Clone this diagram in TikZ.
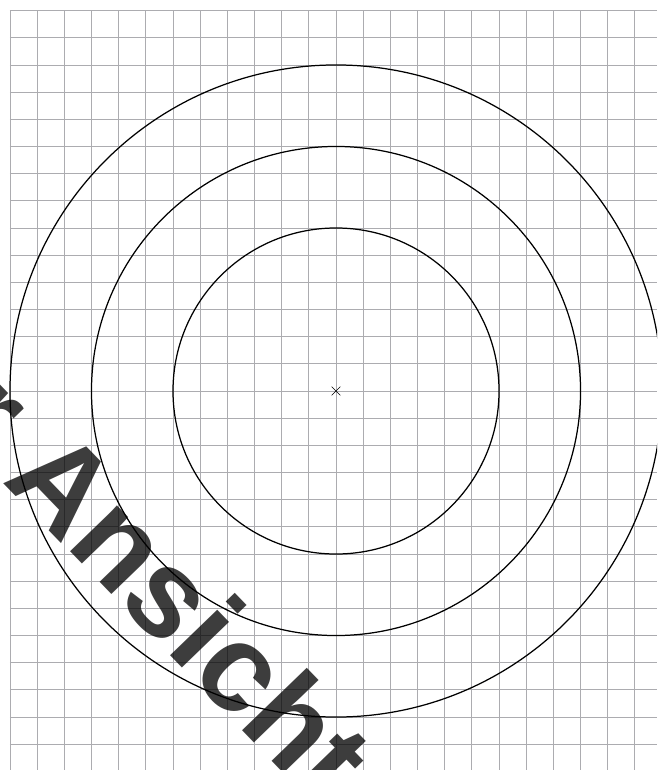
\documentclass[tikz,border=0pt]{standalone}
\usepackage{fontspec}
\setmainfont{Liberation Sans}
\usetikzlibrary{calc}
\begin{document}
\begin{tikzpicture}[
  gridline/.style={draw={rgb,255:red,172;green,172;blue,176}, line width=0.9pt},
  ring/.style={draw=black, line width=1.3pt},
  crossmark/.style={draw=black, line width=0.7pt},
  stamp/.style={text=black, text opacity=0.76, inner sep=0pt, anchor=base west, rotate=-46,
    font=\fontsize{130}{130}\selectfont\bfseries}
]
\useasboundingbox (-12.367,-13.949) rectangle (11.815,14.391);
\clip (-12.367,-13.949) rectangle (11.815,14.391);
\fill[white] (-12.367,-13.949) rectangle (11.815,14.391);
\draw[gridline, step=1] (-12,-13.949) grid (11.815,14);
\coordinate (c) at (0,0);
\draw[ring] (c) circle[radius=6];
\draw[ring] (c) circle[radius=9];
\draw[ring] (c) circle[radius=12];
\draw[crossmark] ($(c)+(-0.16,-0.16)$) -- ($(c)+(0.16,0.16)$);
\draw[crossmark] ($(c)+(-0.16,0.16)$) -- ($(c)+(0.16,-0.16)$);
\node[stamp] (wm) at (-17.94,2.53) {zur Ansicht};
\end{tikzpicture}
\end{document}
